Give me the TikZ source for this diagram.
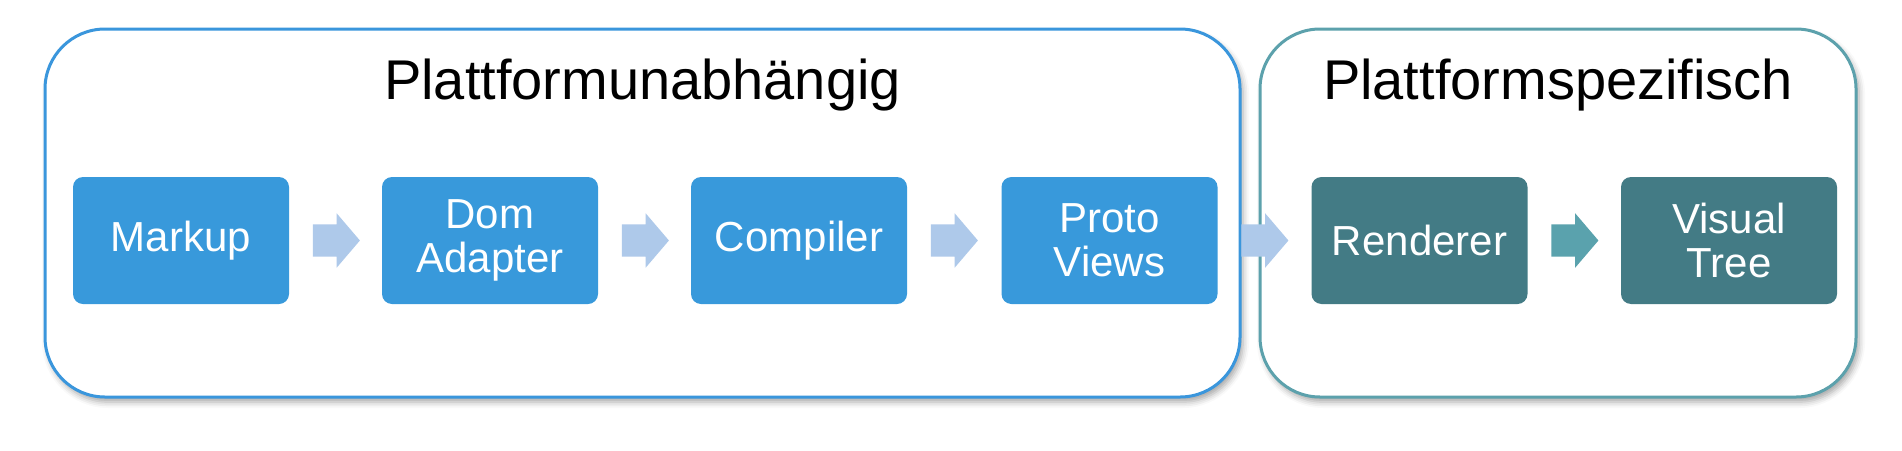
\documentclass[tikz,border=0pt]{standalone}
\usepackage{fontspec}
\setmainfont{Liberation Sans}
\usetikzlibrary{shapes.arrows,shadows.blur,calc}
\definecolor{boxblue}{RGB}{56,153,219}
\definecolor{boxteal}{RGB}{67,123,133}
\definecolor{lineblue}{RGB}{58,150,220}
\definecolor{lineteal}{RGB}{92,161,172}
\definecolor{arrowlight}{RGB}{174,201,234}
\definecolor{arrowteal}{RGB}{90,162,173}
\tikzset{
  groupbox/.style={draw, line width=3pt, fill=white, rounded corners=60pt,
    minimum height=368pt,
    blur shadow={shadow xshift=3pt, shadow yshift=-5pt, shadow blur radius=6pt, shadow opacity=35}},
  grouptitle/.style={anchor=base, inner sep=0pt, font=\fontsize{56}{60}\selectfont},
  stepbox/.style={rounded corners=10pt, minimum width=216pt, minimum height=127pt,
    inner sep=0pt, align=center, text=white, font=\fontsize{42}{44}\selectfont},
  blockarrow/.style={single arrow, draw=none, inner sep=0pt, minimum height=47pt,
    text height=16pt, text depth=16pt, single arrow head extend=11pt,
    single arrow tip angle=99, anchor=tail, xshift=23.5pt}
}
\begin{document}
\begin{tikzpicture}[x=1pt,y=-1pt]
\useasboundingbox (0,0) rectangle (1902,450);
% group boxes
\node[groupbox, draw=lineblue, minimum width=1195pt] (g1) at (642.5,213) {};
\node[groupbox, draw=lineteal, minimum width=596pt] (g2) at (1558,213) {};
\node[grouptitle] (t1) at (642.5,99) {Plattformunabhängig};
\node[grouptitle] (t2) at (1558,99) {Plattformspezifisch};
% steps
\node[stepbox, fill=boxblue] (m) at (181,240.5) {Markup};
\node[stepbox, fill=boxblue] (d) at (490,240.5) {Dom\\Adapter};
\node[stepbox, fill=boxblue] (c) at (799,240.5) {Compiler};
\node[stepbox, fill=boxblue] (p) at (1109.5,240.5) {Proto\\Views};
\node[stepbox, fill=boxteal] (r) at (1419.5,240.5) {Renderer};
\node[stepbox, fill=boxteal] (v) at (1729,240.5) {Visual\\Tree};
% arrows
\node[blockarrow, fill=arrowlight] (a1) at (m.east) {};
\node[blockarrow, fill=arrowlight] (a2) at (d.east) {};
\node[blockarrow, fill=arrowlight] (a3) at (c.east) {};
\node[blockarrow, fill=arrowlight] (a4) at (p.east) {};
\node[blockarrow, fill=arrowteal] (a5) at (r.east) {};
\end{tikzpicture}
\end{document}
